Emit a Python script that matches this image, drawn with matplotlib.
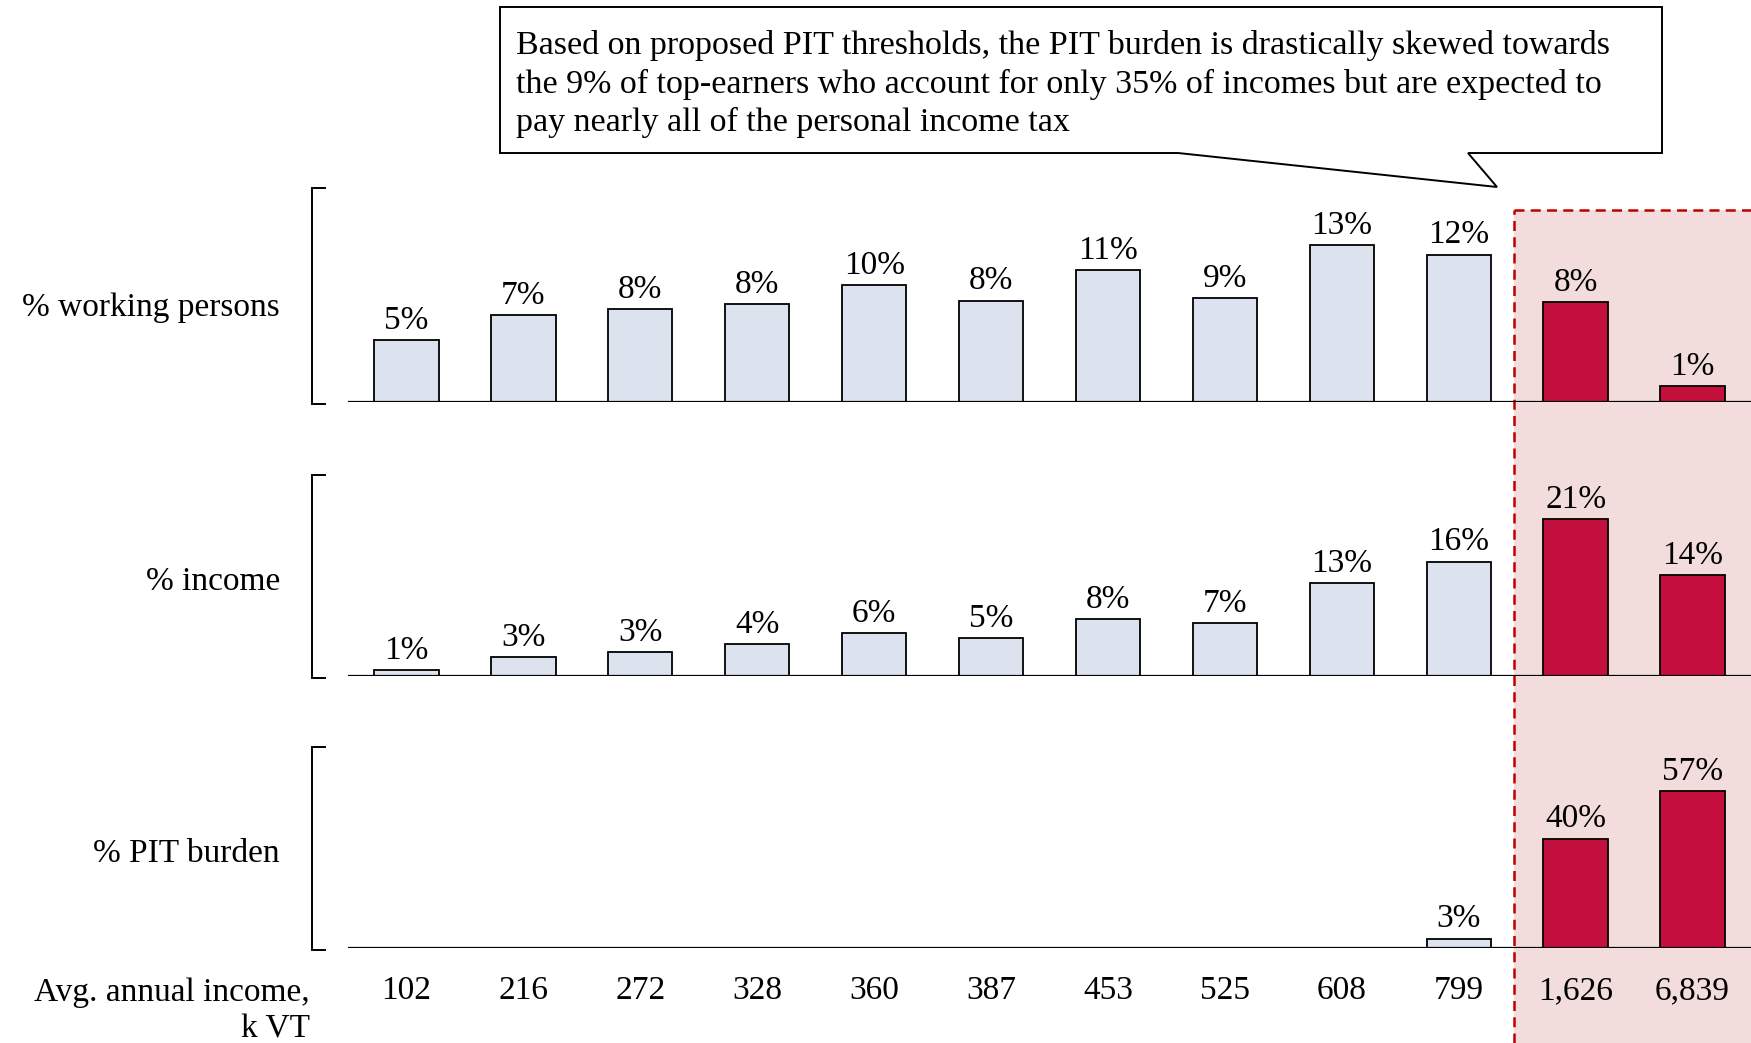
import matplotlib
matplotlib.use("Agg")
import matplotlib.pyplot as plt
import matplotlib.transforms as mtrans
from matplotlib.patches import Rectangle, Polygon
import numpy as np

plt.rcParams["font.family"] = ["Liberation Serif", "DejaVu Serif"]

# income groups (avg annual income, k VT)
incomes = ["102", "216", "272", "328", "360", "387", "453", "525", "608", "799", "1,626", "6,839"]

# shares by income group, %
working = [5.1, 7.2, 7.7, 8.1, 9.7, 8.4, 10.9, 8.6, 13.0, 12.2, 8.3, 1.3]
income = [0.8, 2.6, 3.3, 4.4, 5.8, 5.2, 7.8, 7.2, 12.7, 15.6, 21.4, 13.8]
pit = [0, 0, 0, 0, 0, 0, 0, 0, 0, 3.4, 39.8, 57.1]

panels = ["% working persons", "% income", "% PIT burden"]
top_group = [False] * 10 + [True] * 2

LIGHT = "#dde3ee"
RED = "#c40e3c"
PINK = "#f2dcdc"
DASH = "#c00000"
FS = 24

W, H = 1751, 1043
fig = plt.figure(figsize=(W / 100, H / 100), dpi=100)

# background layer in pixel coordinates (y down) for the decorations
bg = fig.add_axes([0, 0, 1, 1], zorder=0)
bg.set_xlim(0, W)
bg.set_ylim(H, 0)
bg.axis("off")

baselines = [402, 676, 948]
bracket_h = [214, 201, 201]
ax_h = 200
left = 348
axes = []
for vals, base, bh, name in zip([working, income, pit], baselines, bracket_h, panels):
    ax = fig.add_axes([left / W, (H - base) / H, (W - left) / W, ax_h / H], zorder=2)
    ax.patch.set_alpha(0)
    x = np.arange(len(vals))
    cols = [RED if t else LIGHT for t in top_group]
    ax.bar(x, vals, width=0.55, color=cols, edgecolor="black", linewidth=1.3, zorder=3)
    for xi, v in zip(x, vals):
        if v > 0:
            ax.annotate(f"{v:.0f}%", (xi, v), xytext=(0, 3), textcoords="offset points",
                        ha="center", va="bottom", fontsize=FS, zorder=4)
    ax.axhline(0, color="black", lw=1.6, zorder=4)
    ax.set_xlim(-0.5, len(vals) - 0.5)
    ax.set_ylim(0, max(vals) * ax_h / 157)
    for s in ax.spines.values():
        s.set_visible(False)
    ax.set_yticks([])
    ax.set_xticks([])
    axes.append(ax)

    # bracket and row label
    bg.plot([325, 312, 312, 325], [base - bh, base - bh, base + 2, base + 2],
            color="black", lw=1.4, solid_joinstyle="miter")
    bg.text(280, base - 94, name, ha="right", va="center", fontsize=FS)

axes[-1].set_xticks(np.arange(len(incomes)))
axes[-1].set_xticklabels(incomes, fontsize=FS)
axes[-1].tick_params(axis="x", length=0, pad=20)
bg.text(310, 1011, "Avg. annual income,\nk VT", ha="right", va="center",
        fontsize=FS, linespacing=1.25)

# highlighted top-earner zone
tr = mtrans.blended_transform_factory(axes[0].transData, bg.transData)
bg.add_patch(Rectangle((9.47, 210), 2.6, H - 210, transform=tr, facecolor=PINK,
                       edgecolor="none", zorder=0))
bg.plot([9.47, 9.47], [H, 210], transform=tr, color=DASH, lw=1.8, ls=(0, (4, 2.5)))
bg.plot([9.47, 11.5], [210, 210], transform=tr, color=DASH, lw=1.8, ls=(0, (4, 2.5)))

# callout box
callout = [(500, 7), (1662, 7), (1662, 153), (1468, 153), (1497, 187),
           (1178, 153), (500, 153)]
bg.add_patch(Polygon(callout, closed=True, facecolor="white", edgecolor="black",
                     lw=1.4, zorder=3))
bg.text(516, 84,
        "Based on proposed PIT thresholds, the PIT burden is drastically skewed towards\n"
        "the 9% of top-earners who account for only 35% of incomes but are expected to\n"
        "pay nearly all of the personal income tax",
        ha="left", va="center", fontsize=24.5, linespacing=1.3, zorder=4)

fig.savefig("out.png", dpi=100)
